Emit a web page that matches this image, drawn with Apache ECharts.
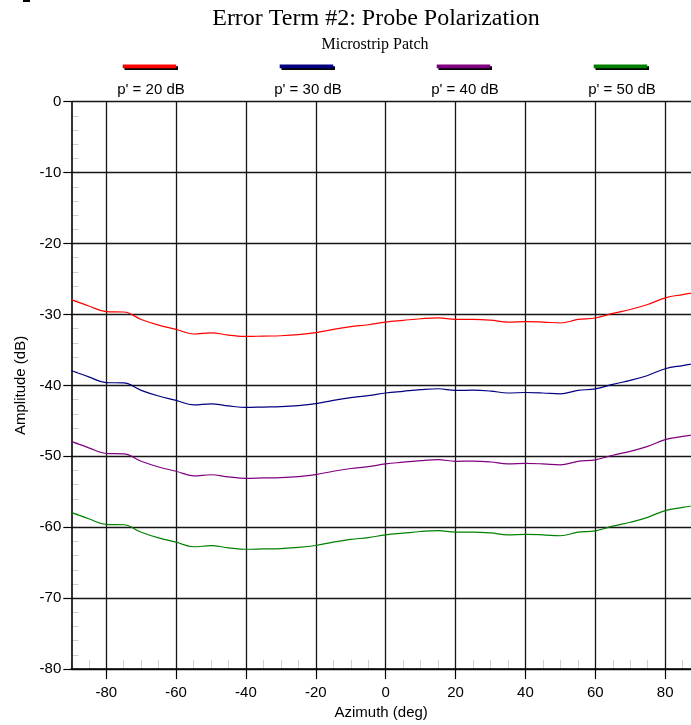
<!DOCTYPE html>
<html>
<head>
<meta charset="utf-8">
<script src="https://cdn.jsdelivr.net/npm/echarts@6/dist/echarts.min.js"></script>
<style>
  html, body { margin: 0; padding: 0; background: #fff; }
  #chart { width: 691px; height: 725px; }
</style>
</head>
<body>
<div id="chart"></div>
<script>
// Azimuth samples (deg)
const azimuth = [-90, -85, -80, -75, -70, -65, -60, -55, -50, -45, -40, -35, -30, -25, -20, -15, -10, -5,
                 0, 5, 10, 15, 20, 25, 30, 35, 40, 45, 50, 55, 60, 65, 70, 75, 80, 85, 90];

// Amplitude (dB) for each probe polarization ratio
const amp20 = [-27.9, -28.8, -29.6, -29.65, -30.7, -31.5, -32.1, -32.75, -32.6, -32.9, -33.1, -33.05, -33.0, -32.85, -32.57, -32.1, -31.72, -31.45,
               -31.07, -30.83, -30.6, -30.47, -30.7, -30.68, -30.8, -31.07, -31.0, -31.07, -31.2, -30.7, -30.5, -29.85, -29.3, -28.6, -27.65, -27.2, -26.8];
const amp30 = [-37.9, -38.8, -39.6, -39.65, -40.7, -41.5, -42.1, -42.75, -42.6, -42.9, -43.1, -43.05, -43.0, -42.85, -42.57, -42.1, -41.72, -41.45,
               -41.07, -40.83, -40.6, -40.47, -40.7, -40.68, -40.8, -41.07, -41.0, -41.07, -41.2, -40.7, -40.5, -39.85, -39.3, -38.6, -37.65, -37.2, -36.8];
const amp40 = [-47.9, -48.8, -49.6, -49.65, -50.7, -51.5, -52.1, -52.75, -52.6, -52.9, -53.1, -53.05, -53.0, -52.85, -52.57, -52.1, -51.72, -51.45,
               -51.07, -50.83, -50.6, -50.47, -50.7, -50.68, -50.8, -51.07, -51.0, -51.07, -51.2, -50.7, -50.5, -49.85, -49.3, -48.6, -47.65, -47.2, -46.8];
const amp50 = [-57.9, -58.8, -59.6, -59.65, -60.7, -61.5, -62.1, -62.75, -62.6, -62.9, -63.1, -63.05, -63.0, -62.85, -62.57, -62.1, -61.72, -61.45,
               -61.07, -60.83, -60.6, -60.47, -60.7, -60.68, -60.8, -61.07, -61.0, -61.07, -61.2, -60.7, -60.5, -59.85, -59.3, -58.6, -57.65, -57.2, -56.8];

const seriesNames = ["p' = 20 dB", "p' = 30 dB", "p' = 40 dB", "p' = 50 dB"];
const seriesColors = ['#ff0000', '#000080', '#800080', '#008000'];
const seriesValues = [amp20, amp30, amp40, amp50];

// Labelled azimuth ticks
const xTicks = [-80, -60, -40, -20, 0, 20, 40, 60, 80];

const titleText = 'Error Term #2: Probe Polarization';
const subtitleText = 'Microstrip Patch';
const xName = 'Azimuth (deg)';
const yName = 'Amplitude (dB)';

const SANS = "'Liberation Sans', Arial, sans-serif";
const SERIF = "'Liberation Serif', 'Times New Roman', serif";

// Visible azimuth window: the plot runs off the right edge of the page
const X_MIN = -90;
const X_MAX = 87.4;

const chart = echarts.init(document.getElementById('chart'), null, { renderer: 'canvas' });

// Legend: colored swatch with a dark drop edge, label underneath
const legendCenters = [150, 307, 464, 621];
const legendGraphics = [];
seriesNames.forEach((name, i) => {
  const c = legendCenters[i];
  legendGraphics.push({
    type: 'rect', shape: { x: c - 25.5, y: 66.2, width: 53.5, height: 3.9 },
    style: { fill: '#000' }, silent: true
  });
  legendGraphics.push({
    type: 'rect', shape: { x: c - 27.3, y: 64.4, width: 53.5, height: 3.9 },
    style: { fill: seriesColors[i] }, silent: true
  });
  legendGraphics.push({
    type: 'text', x: c + 1, y: 89.5, silent: true,
    style: { text: name, font: '15px ' + SANS, fill: '#000', align: 'center', verticalAlign: 'middle' }
  });
});

const option = {
  animation: false,
  backgroundColor: '#fff',
  grid: { left: 71.3, top: 101.7, right: 0, height: 569, containLabel: false },
  graphic: [
    { type: 'rect', shape: { x: 23, y: 0, width: 7, height: 2 }, style: { fill: '#000' }, silent: true },
    {
      type: 'text', x: 376, y: 19, silent: true,
      style: { text: titleText, font: '24px ' + SERIF, fill: '#000', align: 'center', verticalAlign: 'middle' }
    },
    {
      type: 'text', x: 375, y: 45, silent: true,
      style: { text: subtitleText, font: '16px ' + SERIF, fill: '#000', align: 'center', verticalAlign: 'middle' }
    },
    ...legendGraphics
  ],
  xAxis: [
    { // minor ticks every 5 deg
      type: 'value', min: X_MIN, max: X_MAX, interval: 5, position: 'bottom', z: 0,
      axisLine: { show: false, onZero: false },
      axisTick: { show: true, inside: true, length: 9, lineStyle: { color: '#cfcfcf', width: 1 } },
      axisLabel: { show: false },
      splitLine: { show: false }
    },
    { // labelled axis with grid lines
      type: 'value', min: X_MIN, max: X_MAX, interval: 10, position: 'bottom', z: 1,
      name: xName, nameLocation: 'middle', nameGap: 33,
      nameTextStyle: { fontFamily: SANS, fontSize: 15, color: '#000' },
      axisLine: { show: true, onZero: false, lineStyle: { color: '#000', width: 1.6 } },
      axisTick: { show: true, customValues: xTicks, length: 10, lineStyle: { color: '#000', width: 1.2 } },
      axisLabel: { customValues: xTicks, margin: 16, fontFamily: SANS, fontSize: 15, color: '#000' },
      splitLine: { show: true, lineStyle: { color: '#151515', width: 1.3 } }
    }
  ],
  yAxis: [
    { // minor ticks every 2 dB
      type: 'value', min: -80, max: 0, interval: 2, position: 'left', z: 0,
      axisLine: { show: false, onZero: false },
      axisTick: { show: true, inside: true, length: 7, lineStyle: { color: '#cfcfcf', width: 1 } },
      axisLabel: { show: false },
      splitLine: { show: false }
    },
    {
      type: 'value', min: -80, max: 0, interval: 10, position: 'left', z: 1,
      name: yName, nameLocation: 'middle', nameGap: 41,
      nameTextStyle: { fontFamily: SANS, fontSize: 15, color: '#000' },
      axisLine: { show: true, onZero: false, lineStyle: { color: '#000', width: 1.6 } },
      axisTick: { show: true, length: 8, lineStyle: { color: '#000', width: 1.2 } },
      axisLabel: { margin: 10, fontFamily: SANS, fontSize: 15, color: '#000' },
      splitLine: { show: true, lineStyle: { color: '#151515', width: 1.3 } }
    }
  ],
  series: seriesNames.map((name, i) => ({
    name: name,
    type: 'line',
    xAxisIndex: 1,
    yAxisIndex: 1,
    smooth: 0.4,
    showSymbol: false,
    clip: true,
    z: 3,
    lineStyle: { color: seriesColors[i], width: 1.2 },
    itemStyle: { color: seriesColors[i] },
    data: azimuth.map((a, k) => [a, seriesValues[i][k]])
  }))
};

chart.setOption(option);
</script>
</body>
</html>
